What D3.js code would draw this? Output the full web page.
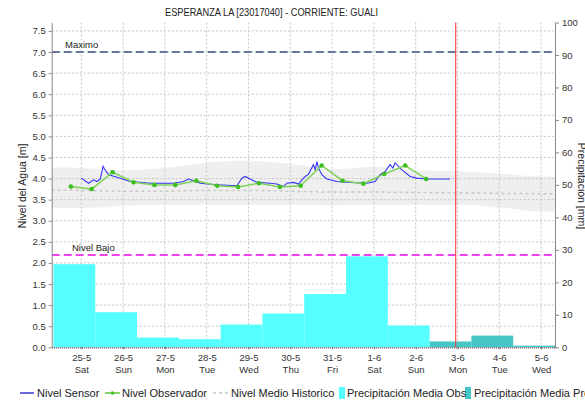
<!DOCTYPE html>
<html>
<head>
<meta charset="utf-8">
<script src="https://cdn.jsdelivr.net/npm/d3@7"></script>
<style>
  html, body { margin: 0; padding: 0; background: #fff; }
  svg { display: block; font-family: "Liberation Sans", Arial, sans-serif; }
</style>
</head>
<body>
<svg id="chart" width="585" height="403"></svg>
<script>
// ---- data -------------------------------------------------------------
const titleText = "ESPERANZA LA [23017040] - CORRIENTE: GUALI";

// x-axis day ticks (midnight of each day) and their labels
const tickDays     = ["2019-05-25","2019-05-26","2019-05-27","2019-05-28","2019-05-29","2019-05-30",
                      "2019-05-31","2019-06-01","2019-06-02","2019-06-03","2019-06-04","2019-06-05"];
const tickDayLabel = ["25-5","26-5","27-5","28-5","29-5","30-5","31-5","1-6","2-6","3-6","4-6","5-6"];
const tickWeekday  = ["Sat","Sun","Mon","Tue","Wed","Thu","Fri","Sat","Sun","Mon","Tue","Wed"];

// sensor level [m], hours after 25-5 00:00
const sensorHours = [0, 4.2, 7.1, 9, 10.9, 12.5, 13.4, 15.7, 20.5, 28.1, 32, 39.6, 53, 58.7, 61.6, 64.4,
                     68.3, 77.9, 89.4, 92.2, 94.1, 97, 100.8, 108.5, 112.3, 116.1, 118.1, 121.8, 124.7,
                     126.7, 128.6, 130.4, 133.3, 134.3, 135.3, 136.2, 138.1, 141, 146.7, 154.4, 164,
                     168.7, 171.6, 174.5, 177.3, 178.9, 180.2, 182.1, 184, 188.8, 192.7, 198.4, 211.8];
const sensorLevel = [4.01, 3.89, 3.97, 3.93, 3.99, 4.29, 4.22, 4.09, 4.03, 3.93, 3.92, 3.89, 3.89, 3.93, 3.99, 3.95,
                     3.89, 3.85, 3.83, 4.01, 4.05, 3.99, 3.91, 3.89, 3.87, 3.81, 3.89, 3.91, 3.87,
                     3.97, 4.05, 4.10, 4.33, 4.21, 4.40, 4.25, 4.09, 3.99, 3.93, 3.91, 3.89,
                     3.93, 4.09, 4.17, 4.33, 4.25, 4.37, 4.29, 4.21, 4.05, 4.01, 3.99, 3.99];

// observer readings [m] (06:00 and 18:00), hours after 25-5 00:00
const obsHours = [-6, 6, 18, 30, 42, 54, 66, 78, 90, 102, 114, 126, 138, 150, 162, 174, 186, 198];
const obsLevel = [3.81, 3.75, 4.15, 3.91, 3.85, 3.85, 3.95, 3.83, 3.80, 3.89, 3.80, 3.83, 4.31, 3.95, 3.88, 4.11, 4.31, 3.99];

// historic level envelope [m], one value per day from 24-5 00:00
const histHigh = [4.27, 4.25, 4.20, 4.25, 4.38, 4.42, 4.35, 4.22, 4.28, 4.20, 4.18, 4.12, 4.05, 4.05];
const histMid  = [3.73, 3.72, 3.70, 3.70, 3.72, 3.72, 3.70, 3.68, 3.68, 3.67, 3.66, 3.65, 3.64, 3.63];
const histLow  = [3.30, 3.30, 3.35, 3.38, 3.38, 3.38, 3.38, 3.36, 3.38, 3.38, 3.38, 3.32, 3.22, 3.22];

// daily precipitation [mm], days starting 24-5 08:00
const precipObs      = [25.6, 10.8, 3.0, 2.5, 7.0, 10.4, 16.4, 28.0, 6.7];
const precipForecast = [1.8, 3.6, 0.5];

// thresholds [m] and current time
const levelMax = 7.0;
const levelLow = 2.19;
const nowTime  = "2019-06-02T23:00:00Z";

const legendItems = ["Nivel Sensor", "Nivel Observador", "Nivel Medio Historico",
                     "Precipitación Media Obs", "Precipitación Media Pronosticada"];

// ---- layout -----------------------------------------------------------
const svg = d3.select("#chart");
const L = 51.7, R = 555, T = 22.5, B = 347.3;
const HOUR = 3600e3;
const t0 = Date.UTC(2019, 4, 24, 7), t1 = Date.UTC(2019, 5, 5, 8);
const base = Date.UTC(2019, 4, 25, 0);
const dayStart = Date.UTC(2019, 4, 24, 0);
const barStart = Date.UTC(2019, 4, 24, 8);

const x  = d3.scaleUtc().domain([t0, t1]).range([L, R]);
const yL = d3.scaleLinear().domain([0, 7.7]).range([B, T]);
const yR = d3.scaleLinear().domain([0, 100]).range([B, T]);

const COL = {
  sensor: "#3535f2", obsLine: "#7fd25a", obsDot: "#3fbf1f", hist: "#c8c8c8",
  band: "#efefef", grid: "#c4c4c4", obs: "#55ffff", fc: "#45c6c6",
  max: "#6675a3", low: "#ee44ee", now: "#ff3030", text: "#333"
};

svg.append("defs").append("clipPath").attr("id", "plot")
  .append("rect").attr("x", L).attr("y", T).attr("width", R - L).attr("height", B - T);
const plot = svg.append("g").attr("clip-path", "url(#plot)");

// title
svg.append("text").attr("x", 271.5).attr("y", 16).attr("text-anchor", "middle")
  .attr("font-size", 10.5).attr("fill", "#222")
  .attr("textLength", 213).attr("lengthAdjust", "spacingAndGlyphs").text(titleText);

// historic envelope
const histT = histHigh.map((_, i) => dayStart + i * 24 * HOUR);
plot.append("path")
  .datum(histT.map((t, i) => ({ t, hi: histHigh[i], lo: histLow[i] })))
  .attr("fill", COL.band)
  .attr("d", d3.area().curve(d3.curveMonotoneX).x(d => x(d.t)).y0(d => yL(d.lo)).y1(d => yL(d.hi)));

// grid
const dayDates = tickDays.map(s => new Date(s + "T00:00:00Z"));
const gridY = d3.range(0.5, 7.51, 0.5);
plot.append("g").selectAll("line").data(gridY).join("line")
  .attr("x1", L).attr("x2", R).attr("y1", d => yL(d)).attr("y2", d => yL(d))
  .attr("stroke", COL.grid).attr("stroke-dasharray", "2,2");
plot.append("g").selectAll("line").data(dayDates).join("line")
  .attr("x1", d => x(d)).attr("x2", d => x(d)).attr("y1", T).attr("y2", B)
  .attr("stroke", COL.grid).attr("stroke-dasharray", "2,2");

// precipitation bars
const bars = precipObs.map((v, i) => ({ v, i, kind: "obs" }))
  .concat(precipForecast.map((v, i) => ({ v, i: i + precipObs.length, kind: "fc" })));
plot.append("g").selectAll("rect").data(bars).join("rect")
  .attr("x", d => x(barStart + d.i * 24 * HOUR))
  .attr("width", d => x(barStart + (d.i + 1) * 24 * HOUR) - x(barStart + d.i * 24 * HOUR))
  .attr("y", d => yR(d.v)).attr("height", d => B - yR(d.v))
  .attr("fill", d => d.kind === "obs" ? COL.obs : COL.fc);

// historic median
plot.append("path").datum(histT.map((t, i) => ({ t, v: histMid[i] })))
  .attr("fill", "none").attr("stroke", COL.hist).attr("stroke-width", 1.5).attr("stroke-dasharray", "3,3")
  .attr("d", d3.line().curve(d3.curveMonotoneX).x(d => x(d.t)).y(d => yL(d.v)));

// thresholds
[[levelMax, COL.max, "Maximo", 65], [levelLow, COL.low, "Nivel Bajo", 72]].forEach(([v, c, label, lx]) => {
  plot.append("line").attr("x1", L).attr("x2", R).attr("y1", yL(v)).attr("y2", yL(v))
    .attr("stroke", c).attr("stroke-width", 2).attr("stroke-dasharray", "8,4");
  svg.append("text").attr("x", lx).attr("y", yL(v) - 4).attr("font-size", 9.5).attr("fill", "#222").text(label);
});

// sensor line
plot.append("path").datum(sensorHours.map((h, i) => ({ t: base + h * HOUR, v: sensorLevel[i] })))
  .attr("fill", "none").attr("stroke", COL.sensor).attr("stroke-width", 1.1)
  .attr("d", d3.line().x(d => x(d.t)).y(d => yL(d.v)));

// observer line and markers
const obs = obsHours.map((h, i) => ({ t: base + h * HOUR, v: obsLevel[i] }));
plot.append("path").datum(obs)
  .attr("fill", "none").attr("stroke", COL.obsLine).attr("stroke-width", 1.5)
  .attr("d", d3.line().x(d => x(d.t)).y(d => yL(d.v)));
plot.append("g").selectAll("circle").data(obs).join("circle")
  .attr("cx", d => x(d.t)).attr("cy", d => yL(d.v)).attr("r", 2.3).attr("fill", COL.obsDot);

// current time marker
const tNow = new Date(nowTime);
svg.append("line").attr("x1", x(tNow)).attr("x2", x(tNow)).attr("y1", T).attr("y2", B)
  .attr("stroke", COL.now).attr("stroke-width", 1);

// axes
function styleAxis(g) {
  g.selectAll(".domain").attr("stroke", "#888");
  g.selectAll(".tick line").attr("stroke", "#888");
  g.selectAll(".tick text").attr("fill", COL.text).attr("font-size", 9.5)
    .attr("font-family", "'Liberation Sans', Arial, sans-serif");
}
const axL = svg.append("g").attr("transform", `translate(${L},0)`)
  .call(d3.axisLeft(yL).tickValues(d3.range(0, 7.51, 0.5)).tickFormat(d3.format(".1f")).tickSize(3).tickSizeOuter(0))
  .call(styleAxis);
const axR = svg.append("g").attr("transform", `translate(${R},0)`)
  .call(d3.axisRight(yR).tickValues(d3.range(0, 101, 10)).tickSize(4).tickSizeOuter(0))
  .call(styleAxis);

const axB = svg.append("g").attr("transform", `translate(0,${B})`)
  .call(d3.axisBottom(x).tickValues(dayDates).tickSize(2).tickSizeOuter(0).tickFormat(() => ""));
axB.select(".domain").attr("stroke", "#555").attr("stroke-width", 1.5).attr("stroke-dasharray", "1,1");
axB.selectAll(".tick line").attr("stroke", "#666");
axB.selectAll(".tick").each(function (d, i) {
  const g = d3.select(this).append("text").attr("fill", COL.text).attr("text-anchor", "middle")
    .attr("font-size", 9.5).attr("font-family", "'Liberation Sans Narrow', 'Liberation Sans', Arial, sans-serif");
  g.append("tspan").attr("x", 0).attr("y", 14).text(tickDayLabel[i]);
  g.append("tspan").attr("x", 0).attr("y", 26).text(tickWeekday[i]);
});

// axis titles
svg.append("text").attr("transform", `translate(26,186) rotate(-90)`).attr("text-anchor", "middle")
  .attr("font-size", 10.5).attr("fill", "#222").text("Nivel del Agua [m]");
svg.append("text").attr("transform", `translate(578,186) rotate(90)`).attr("text-anchor", "middle")
  .attr("font-size", 10.5).attr("fill", "#222").text("Precipitación [mm]");

// legend
const lg = svg.append("g").attr("font-size", 11).attr("fill", "#222");
const ly = 393;
lg.append("line").attr("x1", 20).attr("x2", 34).attr("y1", ly).attr("y2", ly).attr("stroke", "#1a1acc").attr("stroke-width", 1.3);
lg.append("line").attr("x1", 105).attr("x2", 120).attr("y1", ly).attr("y2", ly).attr("stroke", COL.obsDot).attr("stroke-width", 1.3);
lg.append("circle").attr("cx", 112.5).attr("cy", ly).attr("r", 1.8).attr("fill", COL.obsDot);
lg.append("line").attr("x1", 213).attr("x2", 229).attr("y1", ly).attr("y2", ly).attr("stroke", COL.hist).attr("stroke-width", 1.3).attr("stroke-dasharray", "3,3");
lg.append("rect").attr("x", 339).attr("y", ly - 6).attr("width", 6).attr("height", 12).attr("fill", COL.obs);
lg.append("rect").attr("x", 465).attr("y", ly - 6).attr("width", 6).attr("height", 12).attr("fill", COL.fc);
[37, 122, 231, 347, 474].forEach((tx, i) => {
  lg.append("text").attr("x", tx).attr("y", ly + 4).text(legendItems[i]);
});
</script>
</body>
</html>
